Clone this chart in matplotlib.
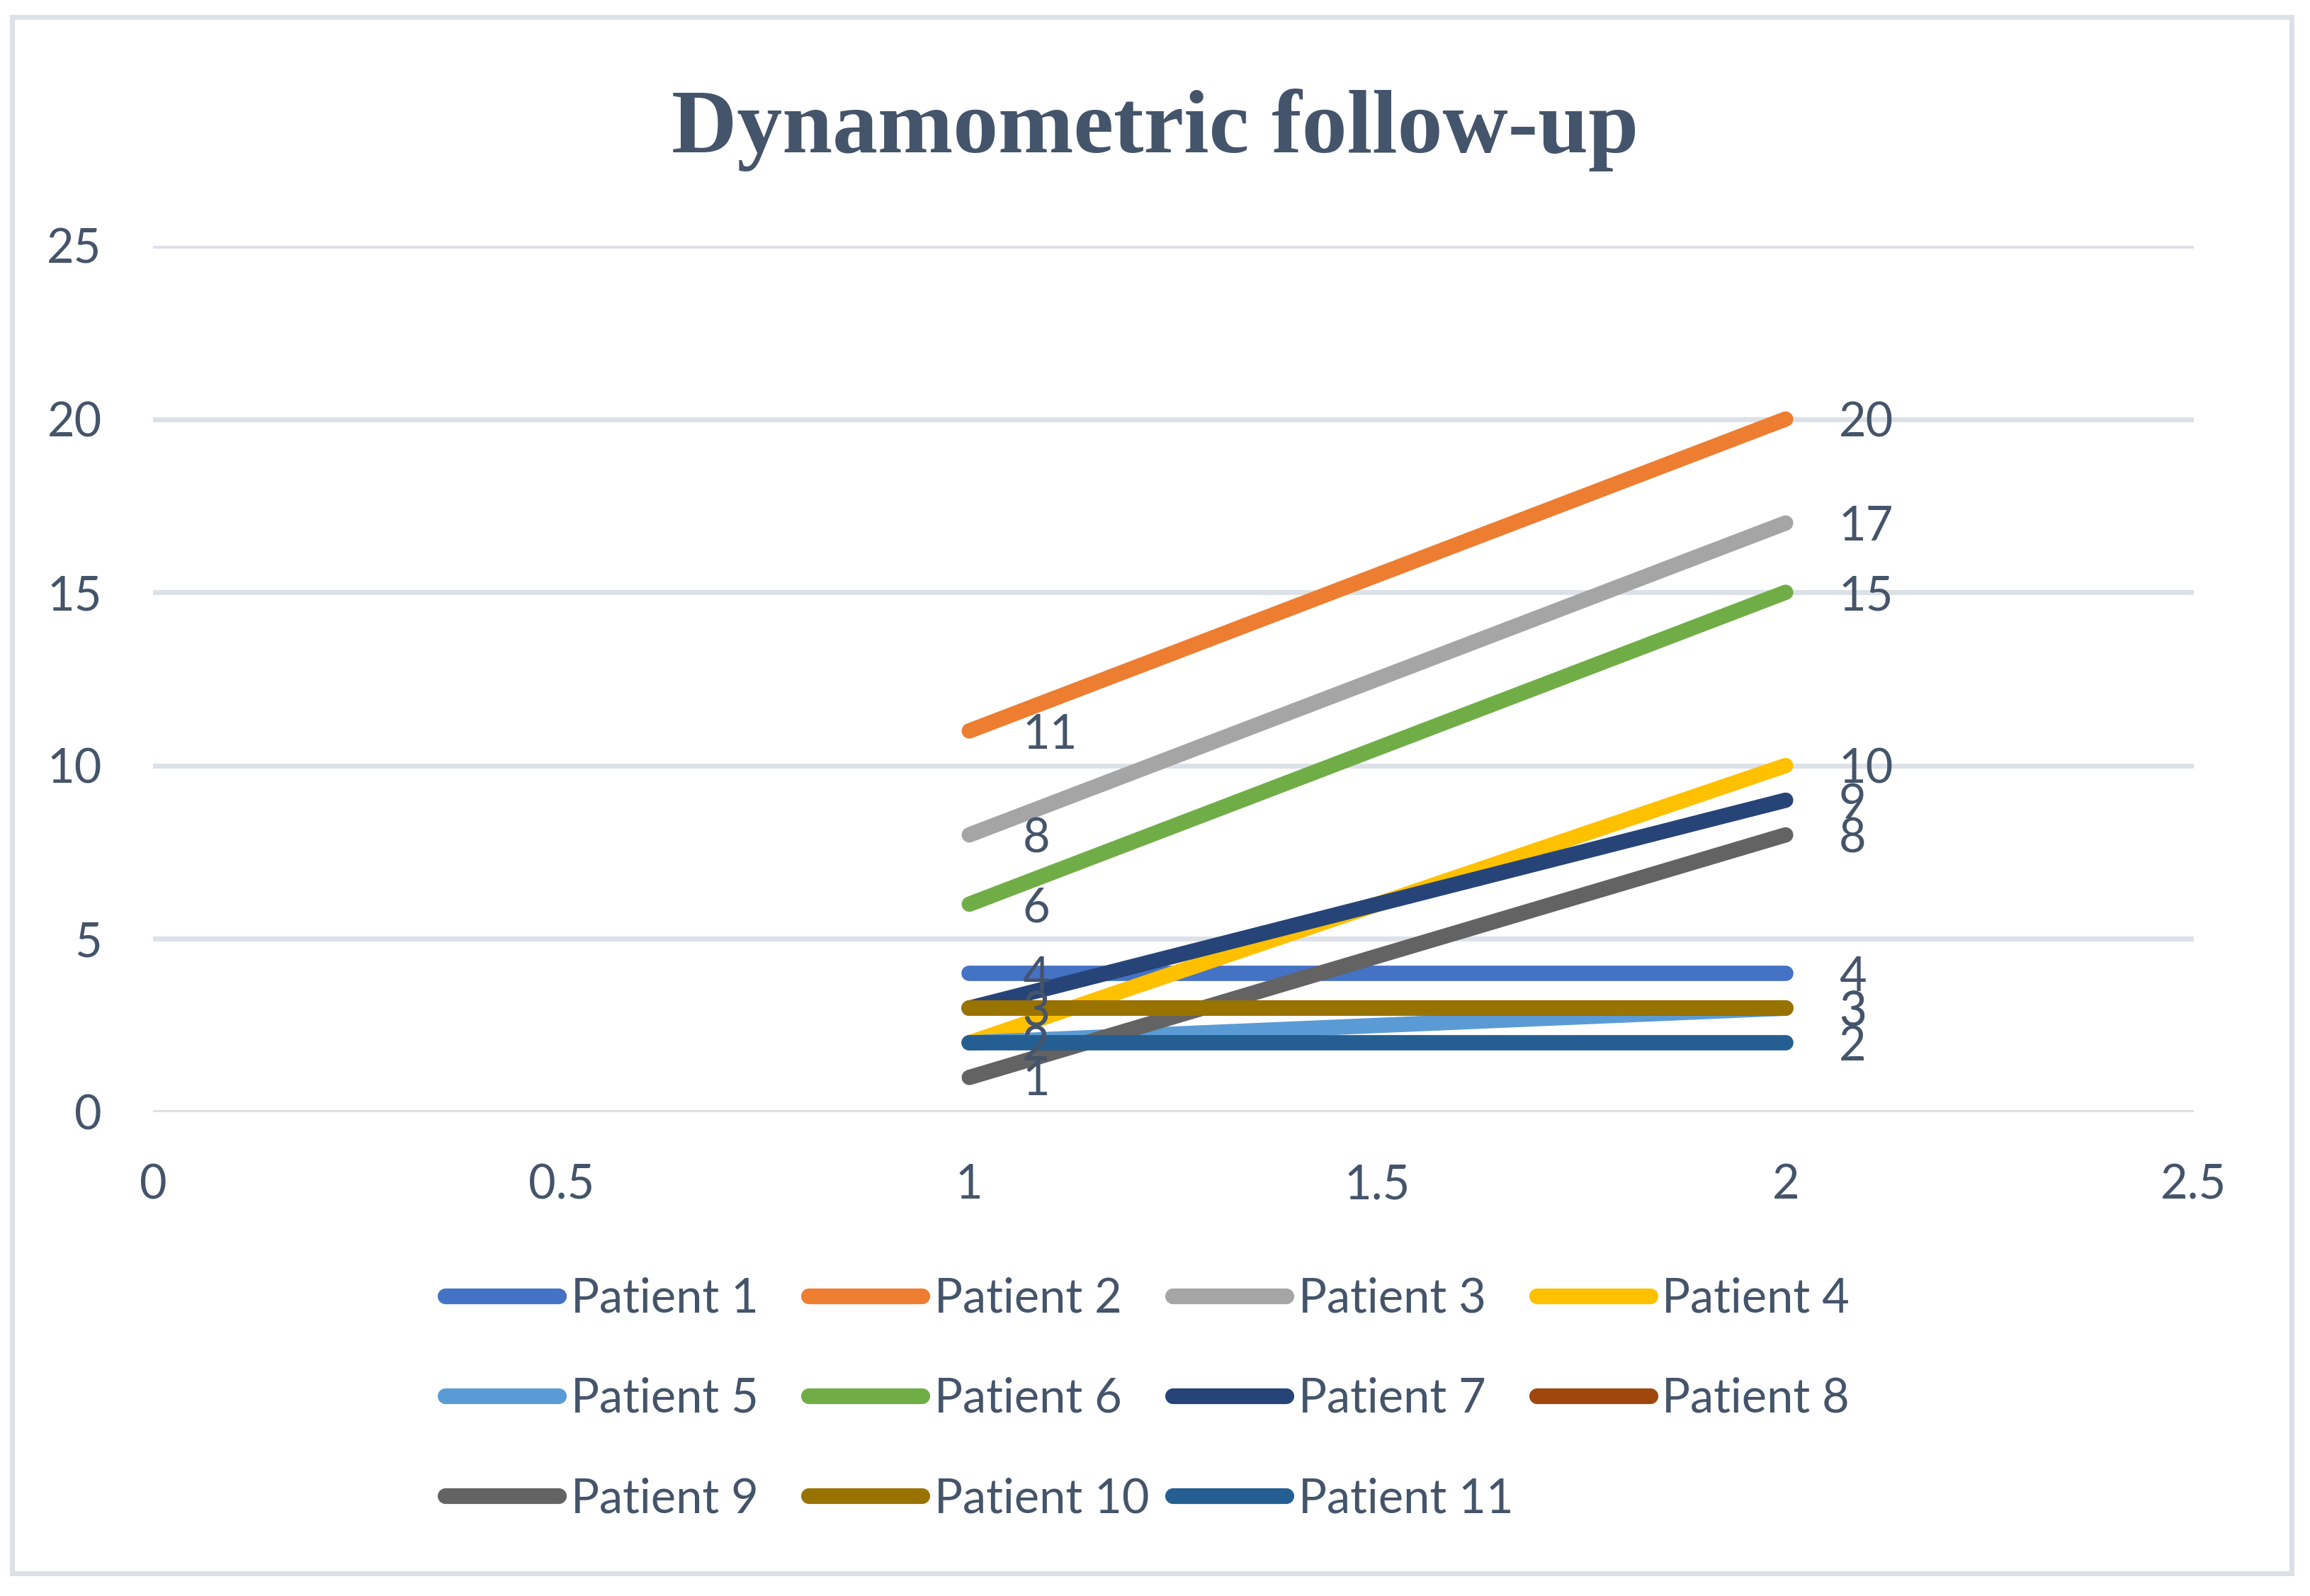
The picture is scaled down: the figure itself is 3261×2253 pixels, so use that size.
import matplotlib
matplotlib.use("Agg")
import matplotlib.pyplot as plt
from matplotlib.patches import Rectangle
from matplotlib.ticker import FuncFormatter

# data
visits = [1, 2]
patients = ["Patient 1", "Patient 2", "Patient 3", "Patient 4", "Patient 5", "Patient 6",
            "Patient 7", "Patient 8", "Patient 9", "Patient 10", "Patient 11"]
p1 = [4, 4]
p2 = [11, 20]
p3 = [8, 17]
p4 = [2, 10]
p5 = [2, 3]
p6 = [6, 15]
p7 = [3, 9]
p8 = [3, 3]
p9 = [1, 8]
p10 = [3, 3]
p11 = [2, 2]
values = [p1, p2, p3, p4, p5, p6, p7, p8, p9, p10, p11]
colors = ["#4472C4", "#ED7D31", "#A5A5A5", "#FFC000", "#5B9BD5", "#70AD47",
          "#264478", "#9E480E", "#636363", "#997300", "#255E91"]

text_col = "#44546A"
grid_col = "#DCE1E8"
plt.rcParams['font.family'] = ['Lato', 'DejaVu Sans']

fig = plt.figure(figsize=(16.31, 11.265), dpi=200)
ax = fig.add_axes([0.0662, 0.3032, 0.8832, 0.5428])

lines = []
for name, vals, c in zip(patients, values, colors):
    ln, = ax.plot(visits, vals, color=c, lw=7.8, solid_capstyle='round', label=name)
    lines.append(ln)
    for x, y in zip(visits, vals):
        ax.annotate(str(y), (x, y), xytext=(27, 0), textcoords='offset points',
                    ha='left', va='center_baseline', fontsize=24, color=text_col, zorder=20)

ax.set_xlim(0, 2.5)
ax.set_ylim(0, 25)
ax.set_xticks([0, 0.5, 1, 1.5, 2, 2.5])
ax.set_yticks([0, 5, 10, 15, 20, 25])
ax.xaxis.set_major_formatter(FuncFormatter(lambda v, p: f"{v:g}"))
ax.tick_params(length=0, labelsize=24, labelcolor=text_col, pad=26)
ax.grid(axis='y', color=grid_col, lw=2.5)
ax.set_axisbelow(True)
for s in ax.spines.values():
    s.set_visible(False)

fig.text(0.5, 0.9046, "Dynamometric follow-up", ha='center', va='baseline',
         fontsize=46, fontweight='bold', color=text_col, family='Liberation Serif')

# legend laid out like Excel's fixed-width grid
leg_x = [0.1928, 0.3502, 0.5077, 0.6651]
leg_y = [0.1860, 0.1234, 0.0608]
for i, (ln, name) in enumerate(zip(lines, patients)):
    r, c = divmod(i, 4)
    leg = fig.legend(handles=[ln], labels=[name], loc='center left',
                     bbox_to_anchor=(leg_x[c], leg_y[r]), frameon=False,
                     borderpad=0, borderaxespad=0, handlelength=2.4,
                     handletextpad=0.25, fontsize=24, labelcolor=text_col)
    for h in leg.legend_handles:
        h.set_linewidth(8)
        h.set_solid_capstyle('round')

fig.patches.append(Rectangle((0.0052, 0.0142), 0.9865, 0.9751, transform=fig.transFigure,
                             fill=False, edgecolor=grid_col, lw=2.5))

fig.savefig("out.png", dpi=200, facecolor='white')
